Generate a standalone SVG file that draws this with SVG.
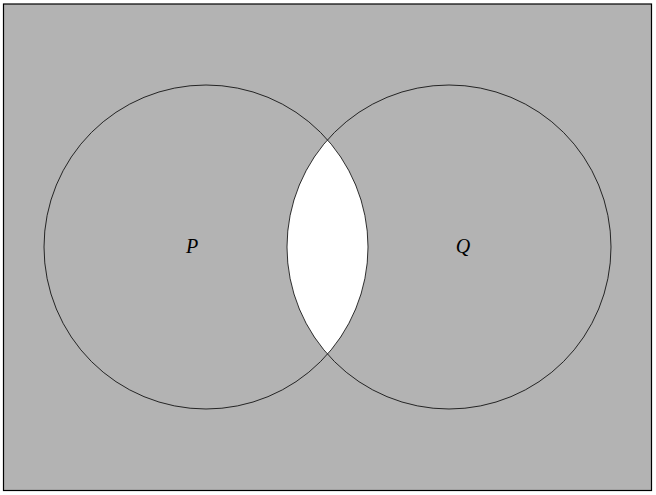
<svg xmlns="http://www.w3.org/2000/svg" width="656" height="495" viewBox="0 0 656 495">
<style>
.c{fill:none;stroke:#000;stroke-width:0.8}
.l{font-family:"Liberation Serif",serif;font-style:italic;font-size:20px;fill:#000}
</style>
<rect width="656" height="495" fill="#fff"/>
<g id="universe">
<rect x="3.5" y="4" width="648" height="486.5" fill="#b3b3b3" stroke="#000" stroke-width="1.2"/>
</g>
<g id="intersection">
<path d="M327.5 139.8 A162 162 0 0 1 327.5 354.2 A162 162 0 0 1 327.5 139.8 Z" fill="#fff"/>
</g>
<g id="P">
<circle class="c" cx="206" cy="247" r="162"/>
<text class="l" x="192" y="253" text-anchor="middle">P</text>
</g>
<g id="Q">
<circle class="c" cx="449" cy="247" r="162"/>
<text class="l" x="463" y="253" text-anchor="middle">Q</text>
</g>
</svg>
